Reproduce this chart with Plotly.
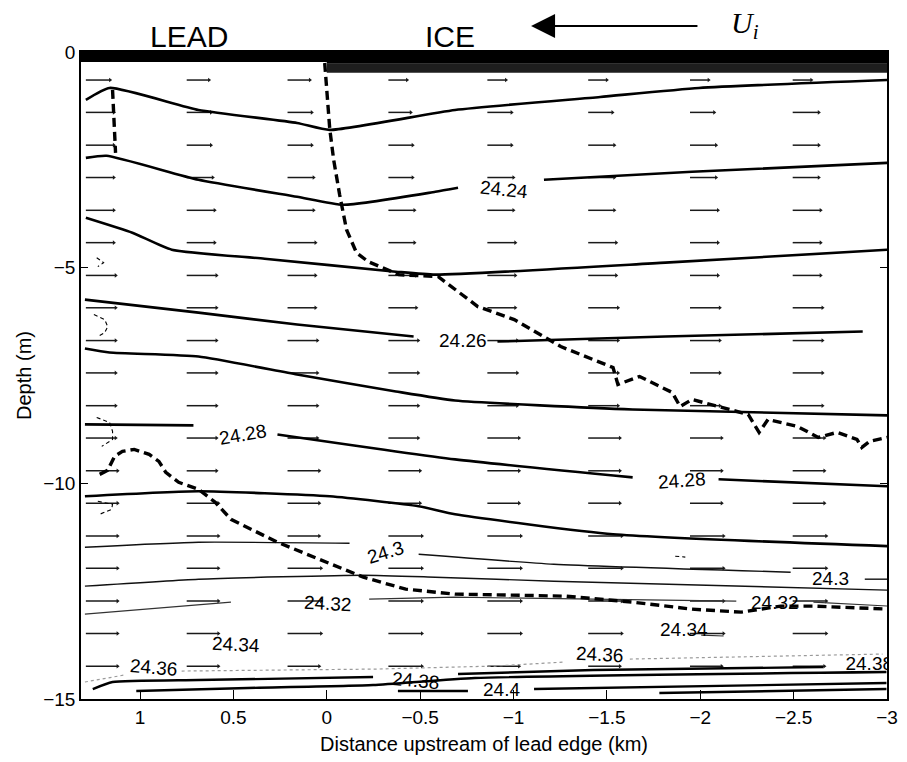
import plotly.graph_objects as go

# ---------------- axes ----------------
x_range = [1.316, -3.0]          # distance upstream of lead edge (km)
y_range = [-15, 0]               # depth (m)
x_ticks = [1, 0.5, 0, -0.5, -1, -1.5, -2, -2.5, -3]
y_ticks = [0, -5, -10, -15]

# surface: lead (open water) and ice
lead_edge = 0.0
lead_bar_depth = -0.23
ice_dark_depth = -0.27
ice_depth = -0.48

# ---------------- isopycnals (None = label gap) ----------------
iso_a_x = [1.290, 1.163, 0.687, 0.159, -0.016, -0.687, -1.464, -1.993, -3.002]
iso_a_y = [-1.111, -0.833, -1.343, -1.644, -1.806, -1.343, -1.042, -0.833, -0.648]

iso_b_x = [1.290, 1.179, 0.687, 0.159, -0.090, -0.581, -0.703, None, -1.163, -1.956, -3.002]
iso_b_y = [-2.454, -2.407, -2.963, -3.356, -3.542, -3.241, -3.148, None, -2.963, -2.778, -2.569]

iso_c_x = [1.290, 1.041, 0.830, 0.333, -0.370, -0.581, -1.813, -3.013]
iso_c_y = [-3.843, -4.190, -4.583, -4.792, -5.093, -5.162, -4.884, -4.583]

iso_d_x = [1.295, 0.687, 0.159, -0.465, None, -0.914, -1.813, -2.870]
iso_d_y = [-5.741, -6.042, -6.319, -6.597, None, -6.713, -6.597, -6.481]

iso_e_x = [1.295, 1.163, 0.687, 0.159, -0.370, -0.687, -1.638, -3.013]
iso_e_y = [-6.875, -6.968, -7.060, -7.477, -7.870, -8.079, -8.287, -8.426]

iso_f_x = [1.295, 0.714, None, 0.264, -0.687, -1.638, None, -2.098, -3.013]
iso_f_y = [-8.634, -8.657, None, -8.866, -9.444, -9.861, None, -9.907, -10.069]

iso_g_x = [1.295, 0.687, -0.016, -0.492, -0.687, -1.533, -3.013]
iso_g_y = [-10.301, -10.185, -10.301, -10.532, -10.718, -11.181, -11.458]

iso_h_x = [1.295, 0.687, -0.122, None, -0.492, -1.216, -2.484, None, -2.881, -3.013]
iso_h_y = [-11.481, -11.366, -11.389, None, -11.644, -11.875, -12.060, None, -12.222, -12.222]

iso_i_x = [1.295, 0.687, -0.196, -0.581, -1.216, -3.013]
iso_i_y = [-12.384, -12.222, -12.130, -12.176, -12.269, -12.477]

iso_j_x = [1.295, 0.513, None, -0.227, -0.687, -1.427, -2.193, None, -2.606, -3.013]
iso_j_y = [-13.032, -12.755, None, -12.685, -12.639, -12.685, -12.731, None, -12.755, -12.847]

iso_k_x = [-2.005, -2.125]
iso_k_y = [-13.52, -13.54]

iso_l_x = [1.295, 1.084, None, 0.777, -0.264, -0.899, -1.269, None, -1.623, -2.976]
iso_l_y = [-14.606, -14.444, None, -14.352, -14.306, -14.236, -14.144, None, -14.074, -13.958]

iso_m_x = [1.253, 1.147, 0.687, -0.248, None, -0.703, -1.427, -2.659]
iso_m_y = [-14.769, -14.606, -14.560, -14.491, None, -14.421, -14.329, -14.259]

iso_n_x = [1.020, 0.423, -0.248, -0.793, -2.997]
iso_n_y = [-14.815, -14.745, -14.676, -14.514, -14.375]

iso_o_x = [-0.381, -0.756, None, -1.110, -2.997]
iso_o_y = [-14.815, -14.815, None, -14.769, -14.630]

iso_p_x = [-1.781, -2.997]
iso_p_y = [-14.861, -14.769]

# contour labels
label_text = ["24.24", "24.26", "24.28", "24.28", "24.3", "24.3", "24.32", "24.32",
              "24.34", "24.34", "24.36", "24.36", "24.38", "24.4"]
label_x = [-0.951, -0.729, 0.449, -1.903, -0.312, -2.696, -0.005, -2.400,
           0.486, -1.913, 0.925, -1.464, -0.476, -0.936]
label_y = [-3.194, -6.690, -8.866, -9.930, -11.600, -12.200, -12.780, -12.755,
           -13.727, -13.380, -14.260, -13.958, -14.560, -14.790]
label_angle = [6, 0, -10, -4, -17, 0, 3, 0, 3, 0, 5, 3, 5, 0]

edge_label_text = ["24.26", "24.38"]
edge_label_x = [-3.14, -2.905]
edge_label_y = [-6.56, -14.21]

# ---------------- dashed boundaries ----------------
dash_lead_x = [1.147, 1.140, 1.131]
dash_lead_y = [-0.880, -1.500, -2.340]

dash_upper_x = [0.011, -0.016, -0.037, -0.069, -0.106, -0.159, -0.222, -0.317, -0.386,
                -0.597, -0.809, -1.004, -1.253, -1.533, -1.559, -1.675, -1.850, -1.892,
                -1.956, -2.257, -2.315, -2.363, -2.521, -2.632, -2.733, -2.839, -2.865,
                -2.907, -3.002]
dash_upper_y = [-0.255, -1.782, -2.500, -3.310, -4.120, -4.653, -4.861, -5.046, -5.162,
                -5.208, -5.903, -6.204, -6.829, -7.315, -7.708, -7.523, -7.894, -8.218,
                -8.056, -8.403, -8.819, -8.519, -8.681, -8.935, -8.819, -8.981, -9.167,
                -9.028, -8.935]

dash_lower_x = [1.216, 1.173, 1.136, 1.094, 1.031, 0.951, 0.899, 0.862, 0.793, 0.687,
                0.597, 0.513, 0.264, 0.000, -0.196, -0.423, -0.687, -1.284, -1.638,
                -1.956, -2.220, -2.431, -2.606, -3.013]
dash_lower_y = [-9.792, -9.699, -9.375, -9.259, -9.213, -9.329, -9.491, -9.745, -9.977,
                -10.139, -10.440, -10.833, -11.366, -11.829, -12.176, -12.454, -12.569,
                -12.616, -12.755, -12.917, -12.986, -12.847, -12.847, -12.917]

# small thin dashed fragments near the left edge
frag_x = [1.232, 1.195, 1.226, None,
          1.247, 1.189, 1.173, 1.189, 1.226, None,
          1.232, 1.163, 1.147, 1.147, 1.205, None,
          1.226, 1.147, 1.152, 1.216, None,
          -1.866, -1.920]
frag_y = [-4.769, -4.884, -4.977, None,
          -6.088, -6.204, -6.366, -6.505, -6.597, None,
          -8.472, -8.588, -8.796, -8.981, -9.144, None,
          -10.417, -10.486, -10.602, -10.718, None,
          -11.690, -11.710]

# ---------------- velocity arrows ----------------
arrow_x = [1.29, 0.75, 0.21, -0.33, -0.86, -1.40, -1.945, -2.495]
arrow_y = [-0.65, -1.40, -2.16, -2.91, -3.67, -4.42, -5.18, -5.93, -6.69, -7.44,
           -8.20, -8.95, -9.71, -10.46, -11.22, -11.97, -12.73, -13.48, -14.24]
arrow_len = [
    [0.13, 0.12, 0.12, 0.10, 0.10, 0.10, 0.10, 0.10],
    [0.15, 0.13, 0.13, 0.12, 0.13, 0.13, 0.13, 0.14],
    [0.15, 0.13, 0.13, 0.13, 0.13, 0.14, 0.14, 0.14],
    [0.15, 0.14, 0.14, 0.13, 0.14, 0.14, 0.14, 0.14],
    [0.15, 0.15, 0.14, 0.14, 0.14, 0.14, 0.15, 0.15],
    [0.15, 0.15, 0.15, 0.14, 0.15, 0.15, 0.15, 0.15],
    [0.16, 0.16, 0.15, 0.15, 0.15, 0.15, 0.15, 0.15],
    [0.16, 0.16, 0.15, 0.15, 0.15, 0.16, 0.16, 0.16],
    [0.16, 0.16, 0.16, 0.16, 0.16, 0.16, 0.16, 0.16],
    [0.16, 0.16, 0.16, 0.16, 0.16, 0.16, 0.16, 0.16],
    [0.16, 0.16, 0.16, 0.16, 0.16, 0.16, 0.16, 0.16],
    [0.16, 0.16, 0.16, 0.16, 0.17, 0.17, 0.17, 0.17],
    [0.17, 0.16, 0.17, 0.17, 0.17, 0.17, 0.17, 0.17],
    [0.17, 0.17, 0.17, 0.17, 0.17, 0.17, 0.17, 0.17],
    [0.17, 0.17, 0.17, 0.18, 0.18, 0.18, 0.18, 0.18],
    [0.17, 0.17, 0.18, 0.18, 0.18, 0.18, 0.18, 0.18],
    [0.17, 0.17, 0.18, 0.18, 0.18, 0.18, 0.18, 0.18],
    [0.17, 0.17, 0.18, 0.18, 0.18, 0.18, 0.18, 0.18],
    [0.17, 0.17, 0.17, 0.18, 0.17, 0.17, 0.17, 0.17],
]

# ice drift arrow (U_i) and region names, heights in metres above the surface
ui_tail_x = -1.993
ui_tip_x = -1.094
ui_height = 0.60
ui_label_x = -2.24
ui_label_height = 1.12
lead_text_x = 0.74
ice_text_x = -0.66
region_text_height = 0.36


def above(h):
    """height above surface (m) -> paper fraction"""
    return (h - y_range[0]) / (y_range[1] - y_range[0])


FONT = "Liberation Sans, Arial, Helvetica, sans-serif"

fig = go.Figure()

# arrows
ax_s, ay_s, hx, hy = [], [], [], []
for i, yv in enumerate(arrow_y):
    for j, xv in enumerate(arrow_x):
        x1 = xv - arrow_len[i][j]
        ax_s += [xv, x1, None]
        ay_s += [yv, yv, None]
        hx.append(x1)
        hy.append(yv)
fig.add_trace(go.Scatter(x=ax_s, y=ay_s, mode="lines",
                         line=dict(color="#1a1a1a", width=1.5), hoverinfo="skip"))
fig.add_trace(go.Scatter(x=hx, y=hy, mode="markers",
                         marker=dict(symbol="triangle-right", size=4, color="#1a1a1a"),
                         hoverinfo="skip"))

# isopycnals
thick = [(iso_a_x, iso_a_y), (iso_b_x, iso_b_y), (iso_c_x, iso_c_y), (iso_d_x, iso_d_y),
         (iso_e_x, iso_e_y), (iso_f_x, iso_f_y), (iso_g_x, iso_g_y)]
for xs, ys in thick:
    fig.add_trace(go.Scatter(x=xs, y=ys, mode="lines", connectgaps=False,
                             line=dict(color="black", width=2.6, shape="spline",
                                       smoothing=0.5), hoverinfo="skip"))
for xs, ys in [(iso_h_x, iso_h_y), (iso_i_x, iso_i_y)]:
    fig.add_trace(go.Scatter(x=xs, y=ys, mode="lines", connectgaps=False,
                             line=dict(color="#111111", width=1.4, shape="spline",
                                       smoothing=0.5), hoverinfo="skip"))
for xs, ys in [(iso_j_x, iso_j_y), (iso_k_x, iso_k_y)]:
    fig.add_trace(go.Scatter(x=xs, y=ys, mode="lines", connectgaps=False,
                             line=dict(color="#333333", width=1.1), hoverinfo="skip"))
fig.add_trace(go.Scatter(x=iso_l_x, y=iso_l_y, mode="lines", connectgaps=False,
                         line=dict(color="#9a9a9a", width=1.2, dash="dot"), hoverinfo="skip"))
for xs, ys in [(iso_m_x, iso_m_y), (iso_n_x, iso_n_y), (iso_o_x, iso_o_y), (iso_p_x, iso_p_y)]:
    fig.add_trace(go.Scatter(x=xs, y=ys, mode="lines", connectgaps=False,
                             line=dict(color="black", width=2.4, shape="spline",
                                       smoothing=0.5), hoverinfo="skip"))

# dashed boundaries
for xs, ys in [(dash_lead_x, dash_lead_y), (dash_upper_x, dash_upper_y),
               (dash_lower_x, dash_lower_y)]:
    fig.add_trace(go.Scatter(x=xs, y=ys, mode="lines",
                             line=dict(color="black", width=3.4, dash="9px,5px"),
                             hoverinfo="skip"))
fig.add_trace(go.Scatter(x=frag_x, y=frag_y, mode="lines", connectgaps=False,
                         line=dict(color="black", width=1.1, dash="4px,3px"),
                         hoverinfo="skip"))

# labels clipped at the right edge
fig.add_trace(go.Scatter(x=edge_label_x, y=edge_label_y, mode="text", text=edge_label_text,
                         textfont=dict(family=FONT, size=19, color="black"),
                         cliponaxis=True, hoverinfo="skip"))

for t, xv, yv, a in zip(label_text, label_x, label_y, label_angle):
    fig.add_annotation(x=xv, y=yv, xref="x", yref="y", text=t, showarrow=False,
                       textangle=a, font=dict(family=FONT, size=19, color="black"))

# surface bars
fig.add_shape(type="rect", xref="x", yref="y", x0=x_range[0], x1=x_range[1],
              y0=lead_bar_depth, y1=0, fillcolor="black", line_width=0, layer="above")
fig.add_shape(type="rect", xref="x", yref="y", x0=lead_edge, x1=x_range[1],
              y0=ice_depth, y1=ice_dark_depth, fillcolor="#1e1e1e", line_width=0, layer="above")
fig.add_shape(type="rect", xref="x", yref="y", x0=lead_edge, x1=x_range[1],
              y0=ice_dark_depth, y1=0, fillcolor="black", line_width=0, layer="above")

# region labels and ice-drift arrow
fig.add_annotation(x=lead_text_x, y=above(region_text_height), xref="x", yref="paper",
                   text="LEAD", showarrow=False, yanchor="middle",
                   font=dict(family=FONT, size=30, color="black"))
fig.add_annotation(x=ice_text_x, y=above(region_text_height), xref="x", yref="paper",
                   text="ICE", showarrow=False, yanchor="middle",
                   font=dict(family=FONT, size=30, color="black"))
fig.add_annotation(x=ui_tip_x, y=above(ui_height), xref="x", yref="paper",
                   ax=ui_tail_x, ay=0, axref="x", ayref="pixel",
                   text="", showarrow=True, arrowhead=2, arrowsize=2.4, arrowwidth=2,
                   arrowcolor="black")
fig.add_annotation(x=ui_label_x, y=above(ui_label_height), xref="x", yref="paper",
                   text="<i>U<sub>i</sub></i>", showarrow=False,
                   font=dict(family="Liberation Serif, Times New Roman, serif", size=30,
                             color="black"))

fig.update_layout(
    width=907, height=762,
    margin=dict(l=81, r=9, t=52, b=63),
    paper_bgcolor="white", plot_bgcolor="white",
    showlegend=False,
    font=dict(family=FONT, size=19, color="black"),
)
fig.update_xaxes(range=x_range, tickvals=x_ticks, ticks="inside", ticklen=9,
                 tickwidth=1.2, tickcolor="black", showline=True, linecolor="black",
                 linewidth=1.5, mirror="ticks", showgrid=False, zeroline=False,
                 tickfont=dict(family=FONT, size=19),
                 title=dict(text="Distance upstream of lead edge (km)",
                            font=dict(family=FONT, size=20), standoff=10))
fig.update_yaxes(range=y_range, tickvals=y_ticks, ticks="inside", ticklen=7,
                 tickwidth=1.2, tickcolor="black", showline=True, linecolor="black",
                 linewidth=1.5, mirror="ticks", showgrid=False, zeroline=False,
                 tickfont=dict(family=FONT, size=19),
                 title=dict(text="Depth (m)", font=dict(family=FONT, size=20), standoff=6))

fig.write_html("out.html")
